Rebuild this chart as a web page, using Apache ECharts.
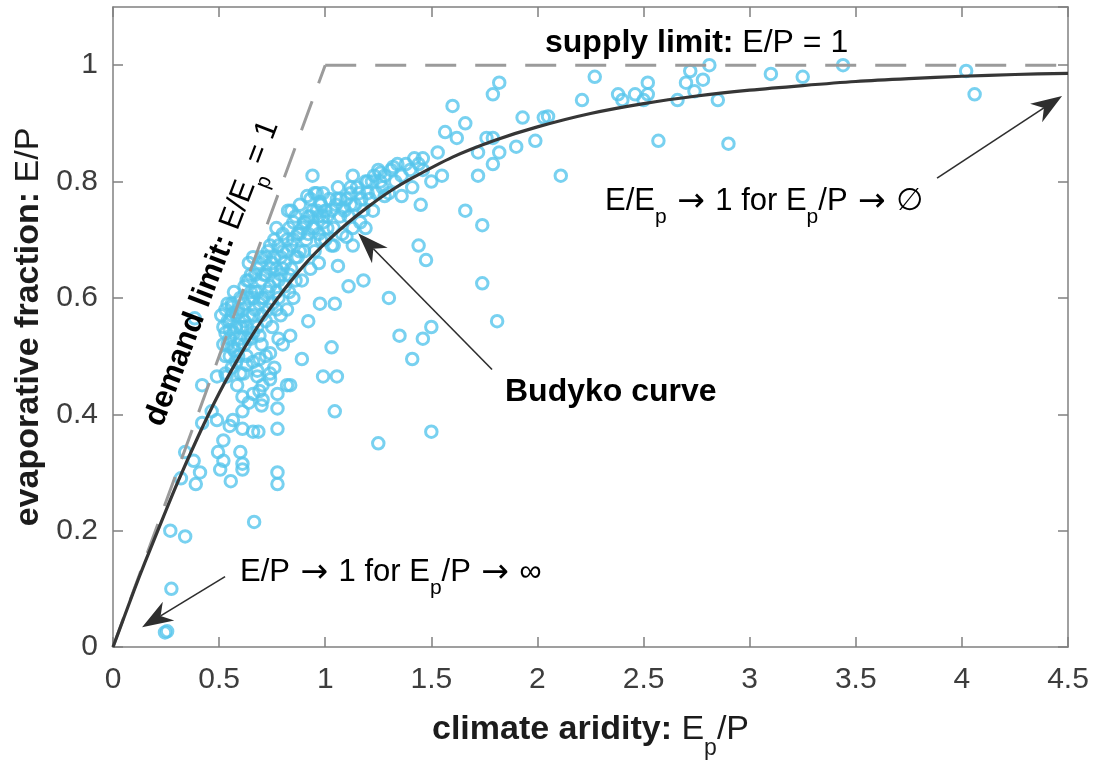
<!DOCTYPE html>
<html>
<head>
<meta charset="utf-8">
<script src="https://cdn.jsdelivr.net/npm/echarts@6/dist/echarts.min.js"></script>
<style>html,body{margin:0;padding:0;background:#fff}#c{width:1099px;height:765px}</style>
</head>
<body>
<div id="c"></div>
<script>
// ---------------- data ----------------
const xTickValues = [0, 0.5, 1, 1.5, 2, 2.5, 3, 3.5, 4, 4.5];
const yTickValues = [0, 0.2, 0.4, 0.6, 0.8, 1];

// catchments, arid side (x > 1.5)
const aridSites = [
  [1.82,0.97],[1.79,0.95],[2.27,0.98],[2.21,0.94],[2.38,0.95],[2.40,0.94],[2.46,0.95],[2.52,0.97],
  [2.52,0.95],[2.50,0.94],[2.66,0.94],[2.72,0.99],[2.70,0.97],[2.74,0.955],[2.78,0.975],[2.81,1.00],
  [2.85,0.94],[3.10,0.985],[3.25,0.98],[3.44,1.00],[4.02,0.99],[4.06,0.95],
  [1.93,0.91],[2.03,0.91],[2.05,0.912],[1.76,0.875],[1.79,0.875],[1.82,0.85],[1.79,0.83],[1.90,0.86],
  [1.99,0.87],[2.11,0.81],[2.57,0.87],[2.90,0.865],[1.72,0.85],[1.72,0.81],[1.74,0.725],[1.66,0.75],
  [1.74,0.625],[1.81,0.56],[1.60,0.93],[1.565,0.885],[1.66,0.90],[1.62,0.875],[1.53,0.85],[1.55,0.81],
  [1.50,0.80]
];
// catchments, intermediate scatter
const midSites = [
  [1.45,0.76],[1.44,0.69],[1.475,0.665],[1.18,0.63],[1.30,0.60],[1.50,0.55],[1.46,0.53],[1.35,0.535],
  [1.41,0.495],[1.50,0.37],[1.25,0.35],[0.94,0.81],[1.13,0.81],[0.915,0.775],[0.975,0.765],[0.825,0.75],
  [0.93,0.74],[1.46,0.84],[1.41,0.79],[1.36,0.775],[1.28,0.775],[1.225,0.75],[1.32,0.825],[1.26,0.815],
  [1.20,0.80],[1.12,0.78],[1.055,0.77],[0.99,0.74],[1.085,0.755],[1.165,0.73],[1.19,0.72],[1.10,0.705],
  [1.13,0.69],[1.04,0.69],[1.06,0.655],[1.11,0.62],[0.975,0.59],[1.045,0.59],[0.92,0.56],[1.03,0.515],
  [0.89,0.495],[0.99,0.465],[1.055,0.465],[0.82,0.45],[0.78,0.53],[0.80,0.52],[1.045,0.405]
];
// catchments, humid side scatter
const humidSites = [
  [0.54,0.59],[0.56,0.585],[0.385,0.565],[0.585,0.575],[0.55,0.545],[0.56,0.515],[0.53,0.50],[0.635,0.53],
  [0.69,0.535],[0.63,0.485],[0.69,0.495],[0.74,0.505],[0.835,0.535],[0.76,0.48],[0.835,0.45],[0.42,0.45],
  [0.49,0.465],[0.535,0.465],[0.585,0.45],[0.68,0.465],[0.705,0.45],[0.705,0.425],[0.66,0.435],[0.61,0.43],
  [0.775,0.435],[0.775,0.41],[0.70,0.415],[0.61,0.405],[0.565,0.39],[0.49,0.39],[0.465,0.405],[0.42,0.385],
  [0.55,0.38],[0.61,0.375],[0.66,0.37],[0.685,0.37],[0.775,0.375],[0.52,0.355],[0.495,0.335],[0.52,0.32],
  [0.60,0.335],[0.61,0.315],[0.505,0.305],[0.61,0.305],[0.34,0.335],[0.38,0.32],[0.32,0.29],[0.41,0.30],
  [0.39,0.28],[0.775,0.30],[0.775,0.28],[0.555,0.285],[0.615,0.47],[0.68,0.475],[0.74,0.47],
  [0.27,0.20],[0.34,0.19],[0.665,0.215],[0.275,0.10],[0.255,0.027],[0.245,0.025]
];
// catchments, dense core along the curve
const coreSites = [
  [0.52,0.55],[0.53,0.58],[0.54,0.52],[0.55,0.56],[0.56,0.59],[0.57,0.54],[0.58,0.57],[0.59,0.52],
  [0.60,0.60],[0.55,0.50],[0.58,0.49],[0.53,0.47],[0.60,0.55],[0.57,0.61],
  [0.61,0.58],[0.62,0.62],[0.63,0.55],[0.64,0.60],[0.65,0.64],[0.66,0.57],[0.67,0.61],[0.68,0.65],
  [0.69,0.59],[0.70,0.63],[0.62,0.52],[0.65,0.53],[0.68,0.55],[0.66,0.67],[0.70,0.67],[0.64,0.63],[0.64,0.66],
  [0.71,0.60],[0.72,0.64],[0.73,0.68],[0.74,0.62],[0.75,0.66],[0.76,0.70],[0.77,0.58],[0.78,0.63],
  [0.79,0.67],[0.80,0.71],[0.72,0.56],[0.75,0.55],[0.78,0.60],[0.80,0.65],[0.74,0.69],[0.77,0.72],[0.79,0.57],
  [0.81,0.62],[0.82,0.68],[0.83,0.72],[0.84,0.65],[0.85,0.70],[0.86,0.74],[0.87,0.67],[0.88,0.71],
  [0.89,0.63],[0.90,0.73],[0.82,0.58],[0.85,0.60],[0.88,0.76],[0.84,0.75],[0.90,0.68],
  [0.91,0.70],[0.92,0.74],[0.93,0.77],[0.94,0.72],[0.95,0.68],[0.96,0.75],[0.97,0.71],[0.98,0.76],
  [0.99,0.73],[1.00,0.70],[0.93,0.65],[0.97,0.66],[0.95,0.78],
  [1.01,0.74],[1.02,0.77],[1.04,0.72],[1.05,0.76],[1.06,0.79],[1.07,0.74],[1.08,0.71],[1.10,0.77],
  [1.11,0.74],[1.12,0.79],[1.13,0.72],[1.14,0.76],[1.03,0.69],
  [1.16,0.78],[1.18,0.75],[1.19,0.80],[1.21,0.77],[1.22,0.80],[1.24,0.78],[1.25,0.82],[1.27,0.79],
  [1.28,0.81],[1.30,0.78],[1.31,0.82],[1.33,0.80],[1.34,0.83],[1.36,0.81],[1.38,0.83],[1.40,0.82],
  [1.42,0.84],[1.44,0.83],[1.46,0.82],
  [0.60,0.47],[0.63,0.50],[0.66,0.49],[0.70,0.52],[0.72,0.50],[0.74,0.46],[0.69,0.44],[0.64,0.42]
];
// more of the dense core
const coreSitesInner = [
  [0.51,0.57],[0.52,0.52],[0.54,0.56],[0.55,0.53],[0.56,0.57],[0.57,0.51],[0.58,0.55],[0.59,0.58],
  [0.60,0.53],[0.53,0.54],[0.56,0.48],[0.59,0.50],
  [0.61,0.55],[0.62,0.59],[0.63,0.63],[0.64,0.57],[0.65,0.61],[0.66,0.54],[0.67,0.58],[0.67,0.64],
  [0.68,0.61],[0.69,0.66],[0.70,0.57],[0.70,0.60],[0.62,0.56],[0.66,0.60],
  [0.71,0.64],[0.72,0.67],[0.73,0.61],[0.74,0.65],[0.75,0.59],[0.76,0.63],[0.76,0.67],[0.77,0.61],
  [0.78,0.69],[0.79,0.64],[0.80,0.68],[0.73,0.58],[0.77,0.65],
  [0.81,0.66],[0.82,0.70],[0.83,0.64],[0.84,0.69],[0.85,0.73],[0.86,0.67],[0.87,0.71],[0.88,0.68],
  [0.89,0.72],[0.86,0.63],[0.83,0.61],
  [0.91,0.73],[0.92,0.71],[0.94,0.75],[0.95,0.72],[0.97,0.74],[0.98,0.70],[1.00,0.75],[1.01,0.72],
  [1.03,0.75],[0.96,0.78],[0.99,0.78],
  [1.07,0.77],[1.09,0.75],[1.12,0.76],[1.15,0.79],[1.17,0.77],[1.20,0.78],[1.23,0.81],[1.26,0.80]
];

// Budyko curve
const budykoAridity  = [0, 0.05, 0.1, 0.15, 0.2, 0.3, 0.4, 0.5, 0.6, 0.7, 0.8, 0.9, 1.0, 1.1, 1.2, 1.3, 1.4, 1.6, 1.8, 2.0, 2.25, 2.5, 2.75, 3.0, 3.25, 3.5, 3.75, 4.0, 4.25, 4.5];
const budykoFraction = [0, 0.049, 0.098, 0.145, 0.190, 0.279, 0.361, 0.436, 0.502, 0.561, 0.611, 0.656, 0.694, 0.727, 0.756, 0.782, 0.804, 0.842, 0.871, 0.894, 0.917, 0.934, 0.947, 0.957, 0.965, 0.972, 0.977, 0.981, 0.984, 0.986];

// limits
const demandLimitX = [0, 1];
const demandLimitY = [0, 1];
const supplyLimitX = [1, 4.5];
const supplyLimitY = [1, 1];

// ---------------- chart ----------------
const FONT = '"Liberation Sans", Arial, Helvetica, "DejaVu Sans", sans-serif';
const TXT = '#1c1c1c';
function rich(F, S, P) {
  return {
    b: {fontFamily: FONT, fontWeight: 'bold', fontSize: F, lineHeight: F + 4, verticalAlign: 'top', color: TXT},
    r: {fontFamily: FONT, fontSize: F, lineHeight: F + 4, verticalAlign: 'top', color: TXT},
    s: {fontFamily: FONT, fontSize: S, lineHeight: S, verticalAlign: 'top', padding: [P, 0, 0, 0], color: TXT},
    a: {fontFamily: '"DejaVu Sans ExtraLight", "DejaVu Sans", sans-serif', fontSize: F + 2, lineHeight: F + 2,
        verticalAlign: 'top', padding: [0, 0, 0, 0], color: TXT}
  };
}
const zip = (xs, ys) => xs.map((x, i) => [x, ys[i]]);

const chart = echarts.init(document.getElementById('c'));
const axisColor = '#808080';
const labelColor = '#3d3d3d';
const scatterStyle = {color: 'rgba(0,0,0,0)', borderColor: '#56c5ec', borderWidth: 3};
const allSites = [].concat(coreSites, coreSitesInner, humidSites, midSites, aridSites);

chart.setOption({
  animation: false,
  backgroundColor: '#fff',
  grid: {left: 113, right: 31, top: 7, bottom: 118, containLabel: false},
  xAxis: [{
    type: 'value', min: 0, max: 4.5, interval: 0.5, position: 'bottom',
    axisLine: {show: true, onZero: false, lineStyle: {color: axisColor, width: 1.5}},
    axisTick: {show: true, inside: true, length: 10, lineStyle: {color: axisColor, width: 1.5}},
    splitLine: {show: false},
    axisLabel: {fontFamily: FONT, fontSize: 30, color: labelColor, margin: 18,
      formatter: v => xTickValues.some(t => Math.abs(t - v) < 1e-9) ? String(+v.toFixed(2)) : ''},
    name: '{b|climate aridity: }{r|E}{s|p}{r|/P}',
    nameLocation: 'middle', nameGap: 66,
    nameTextStyle: {rich: rich(34, 23, 24)}
  }, {
    type: 'value', min: 0, max: 4.5, interval: 0.5, position: 'top',
    axisLine: {show: true, onZero: false, lineStyle: {color: axisColor, width: 1.5}},
    axisTick: {show: true, inside: true, length: 10, lineStyle: {color: axisColor, width: 1.5}},
    axisLabel: {show: false}, splitLine: {show: false}
  }],
  yAxis: [{
    type: 'value', min: 0, max: 1.1, interval: 0.2, position: 'left',
    axisLine: {show: true, onZero: false, lineStyle: {color: axisColor, width: 1.5}},
    axisTick: {show: true, inside: true, length: 10, lineStyle: {color: axisColor, width: 1.5}},
    splitLine: {show: false},
    axisLabel: {fontFamily: FONT, fontSize: 30, color: labelColor, margin: 15, showMaxLabel: false,
      formatter: v => yTickValues.some(t => Math.abs(t - v) < 1e-9) ? String(+v.toFixed(2)) : ''},
    name: '{b|evaporative fraction: }{r|E/P}',
    nameLocation: 'middle', nameGap: 54,
    nameTextStyle: {rich: rich(34, 23, 24)}
  }, {
    type: 'value', min: 0, max: 1.1, interval: 0.2, position: 'right',
    axisLine: {show: true, onZero: false, lineStyle: {color: axisColor, width: 1.5}},
    axisTick: {show: true, inside: true, length: 10, lineStyle: {color: axisColor, width: 1.5}},
    axisLabel: {show: false}, splitLine: {show: false}
  }],
  series: [
    {type: 'scatter', name: 'catchments', data: allSites, symbol: 'circle', symbolSize: 11.5,
     itemStyle: scatterStyle, z: 2, silent: true, large: false},
    {type: 'line', name: 'demand limit', data: zip(demandLimitX, demandLimitY), showSymbol: false,
     lineStyle: {color: '#9b9b9b', width: 3, type: [31, 19]}, z: 3, silent: true},
    {type: 'line', name: 'supply limit', data: zip(supplyLimitX, supplyLimitY), showSymbol: false,
     lineStyle: {color: '#9b9b9b', width: 3, type: [31, 19]}, z: 3, silent: true},
    {type: 'line', name: 'Budyko curve', data: zip(budykoAridity, budykoFraction), showSymbol: false,
     smooth: 0.3, lineStyle: {color: '#363636', width: 3.2}, z: 4, silent: true}
  ]
});

// ---------------- annotations ----------------
function arrow(tail, tip) {
  const p0 = chart.convertToPixel({gridIndex: 0}, tail);
  const p1 = chart.convertToPixel({gridIndex: 0}, tip);
  const dx = p1[0] - p0[0], dy = p1[1] - p0[1];
  const len = Math.hypot(dx, dy);
  const ux = dx / len, uy = dy / len, nx = -uy, ny = ux;
  const L = 31, W = 22, N = 0.7 * L;
  const back = [p1[0] - ux * L, p1[1] - uy * L];
  const notch = [p1[0] - ux * N, p1[1] - uy * N];
  const c1 = [back[0] + nx * W / 2, back[1] + ny * W / 2];
  const c2 = [back[0] - nx * W / 2, back[1] - ny * W / 2];
  return [
    {type: 'line', z: 10, shape: {x1: p0[0], y1: p0[1], x2: notch[0], y2: notch[1]},
     style: {stroke: '#2e2e2e', lineWidth: 1.6}},
    {type: 'polygon', z: 10, shape: {points: [p1, c1, notch, c2]}, style: {fill: '#2e2e2e'}}
  ];
}
function label(x, y, text, r, extra) {
  return Object.assign({type: 'text', z: 11, x: x, y: y,
    style: {text: text, rich: r, align: 'left', verticalAlign: 'top'}}, extra || {});
}
const R31 = rich(31, 21, 21);
const R32 = rich(32, 21, 21);

const graphics = [].concat(
  arrow([3.883, 0.806], [4.472, 0.947]),
  arrow([1.786, 0.477], [1.155, 0.711]),
  arrow([0.528, 0.121], [0.137, 0.034]),
  [
    label(545, 27, '{b|supply limit: }{r|E/P = 1}', R32),
    label(605, 186, '{r|E/E}{s|p}{a| → }{r|1 for E}{s|p}{r|/P}{a| → }{r|∅}', R31),
    label(240, 557, '{r|E/P}{a| → }{r|1 for E}{s|p}{r|/P}{a| → }{r|∞}', R31),
    label(505, 376, '{b|Budyko curve}', R32),
    {type: 'text', z: 11, x: 214, y: 274, rotation: 69 * Math.PI / 180,
     style: {text: '{b|demand limit: }{r|E/E}{s|p}{r| = 1}', rich: R31, align: 'center', verticalAlign: 'middle'}}
  ]
);
chart.setOption({graphic: graphics});
</script>
</body>
</html>
